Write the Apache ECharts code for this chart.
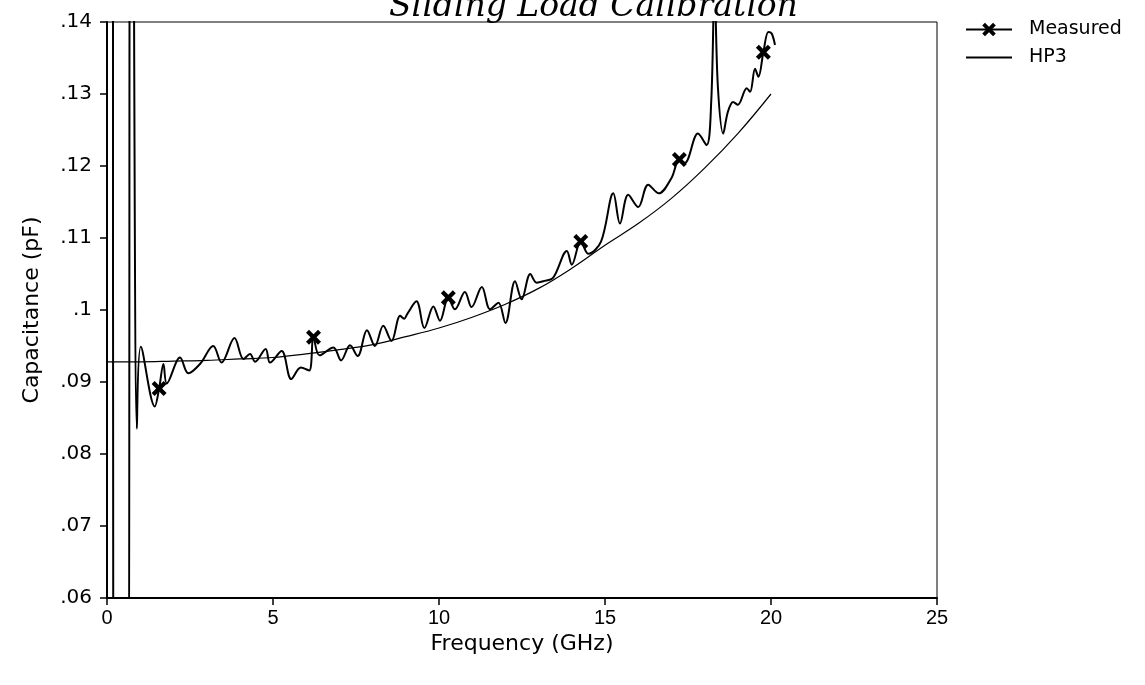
<!DOCTYPE html>
<html>
<head>
<meta charset="utf-8">
<script src="https://cdn.jsdelivr.net/npm/echarts@6/dist/echarts.min.js"></script>
<style>
html,body{margin:0;padding:0;background:#fff;}
#chart{width:1145px;height:685px;}
</style>
</head>
<body>
<div id="chart"></div>
<script>
// ---- data ----
const titleText = 'Sliding Load Calibration';
const xAxisName = 'Frequency (GHz)';
const yAxisName = 'Capacitance (pF)';
const seriesNames = ['Measured', 'HP3'];
const yTickLabels = {'0.06':'.06','0.07':'.07','0.08':'.08','0.09':'.09','0.10':'.1','0.11':'.11','0.12':'.12','0.13':'.13','0.14':'.14'};

// Measured sweep (GHz, pF)
const measuredX = [0.18,0.19,0.63,0.70,0.76,0.90,1.02,1.44,1.70,1.80,2.20,2.45,2.80,3.20,3.45,3.84,4.11,4.31,4.46,4.78,4.91,5.26,5.55,5.84,6.09,6.40,6.82,7.05,7.32,7.55,7.83,8.07,8.32,8.57,8.83,8.95,9.05,9.32,9.56,9.83,10.03,10.48,10.78,10.98,11.29,11.54,11.79,12.00,12.29,12.49,12.75,12.94,13.14,13.44,13.85,14.00,14.50,14.88,15.25,15.45,15.70,16.00,16.30,16.62,17.00,17.40,17.80,18.06,18.20,18.30,18.40,18.56,18.70,18.86,19.00,19.27,19.37,19.52,19.62,19.92,20.02,20.12];
const measuredY = [0.170,0.040,0.040,0.170,0.170,0.0835,0.0949,0.0866,0.0925,0.0898,0.0934,0.0912,0.0925,0.0950,0.0927,0.0961,0.0932,0.0939,0.0928,0.0946,0.0927,0.0943,0.0904,0.0920,0.0916,0.0937,0.0948,0.0930,0.0951,0.0936,0.0972,0.0950,0.0978,0.0957,0.0992,0.0988,0.0995,0.1012,0.0975,0.1005,0.0985,0.1001,0.1025,0.1004,0.1032,0.1001,0.1010,0.0982,0.1040,0.1015,0.1050,0.1038,0.1040,0.1045,0.1082,0.1063,0.1078,0.1095,0.1162,0.1120,0.1160,0.1143,0.1174,0.1162,0.1183,0.1204,0.1245,0.1229,0.1290,0.1450,0.1310,0.1245,0.1275,0.1289,0.1285,0.1308,0.1303,0.1335,0.1324,0.1386,0.1384,0.1368];
// Measured marker points (X symbols)
const markerX = [1.57,6.22,10.28,14.27,17.24,19.77];
const markerY = [0.0891,0.0962,0.1017,0.1095,0.1209,0.1358];

// HP3 model curve
const hp3X = [0,1,2,3,4,5,6,7,8,9,10,11,12,13,14,15,16,17,18,19,20];
const hp3Y = [0.0928,0.0928,0.0929,0.0930,0.0932,0.0934,0.0939,0.0945,0.0952,0.0963,0.0975,0.0990,0.1008,0.1030,0.1058,0.1090,0.1120,0.1155,0.1197,0.1245,0.1300];

// ---- build series data ----
const measuredPts = measuredX.map((x,i)=>({value:[x,measuredY[i]], symbol:'none'}));
markerX.forEach((x,i)=>measuredPts.push({value:[x,markerY[i]]}));
measuredPts.sort((a,b)=>a.value[0]-b.value[0]);
const hp3Pts = hp3X.map((x,i)=>[x,hp3Y[i]]);

const xMark = 'path://M0,2 L2,0 L5,3 L8,0 L10,2 L7,5 L10,8 L8,10 L5,7 L2,10 L0,8 L3,5 Z';

const chart = echarts.init(document.getElementById('chart'), null, {renderer:'canvas'});
chart.setOption({
  backgroundColor:'#ffffff',
  animation:false,
  title:{
    text:titleText, left:384, top:-14,
    textStyle:{fontFamily:'DejaVu Serif', fontStyle:'italic', fontWeight:'normal', fontSize:33, color:'#000'}
  },
  legend:{
    orient:'vertical', left:960, top:15, itemWidth:46, itemHeight:17, itemGap:9,
    data:seriesNames,
    textStyle:{fontFamily:'DejaVu Sans', fontSize:19, color:'#000', padding:[0,0,0,12]}
  },
  grid:{left:107, top:22, right:208, bottom:87, show:true, borderColor:'#000', borderWidth:1, backgroundColor:'transparent'},
  xAxis:{
    type:'value', min:0, max:25, interval:5,
    name:xAxisName, nameLocation:'middle', nameGap:30,
    nameTextStyle:{fontFamily:'DejaVu Sans', fontSize:22, color:'#000'},
    axisLine:{lineStyle:{color:'#000', width:2}},
    axisTick:{inside:false, length:7, lineStyle:{color:'#000', width:1.5}},
    axisLabel:{fontFamily:'Liberation Sans', fontSize:20, color:'#000', margin:10},
    splitLine:{show:false}
  },
  yAxis:{
    type:'value', min:0.06, max:0.14, interval:0.01,
    name:yAxisName, nameLocation:'middle', nameGap:64, nameRotate:90,
    nameTextStyle:{fontFamily:'DejaVu Sans', fontSize:22, color:'#000'},
    axisLine:{onZero:false, lineStyle:{color:'#000', width:2}},
    axisTick:{inside:false, length:7, lineStyle:{color:'#000', width:1.5}},
    axisLabel:{fontFamily:'DejaVu Sans', fontSize:20, color:'#000', margin:15,
      formatter:v=>yTickLabels[v.toFixed(2)] || ''},
    splitLine:{show:false}
  },
  series:[
    {
      name:seriesNames[0], type:'line', data:measuredPts, smooth:0.35,
      symbol:xMark, symbolSize:15, showSymbol:true,
      itemStyle:{color:'#000'},
      lineStyle:{color:'#000', width:2},
      clip:true, z:3
    },
    {
      name:seriesNames[1], type:'line', data:hp3Pts, smooth:0.4,
      symbol:'none',
      itemStyle:{color:'rgba(0,0,0,0)', borderWidth:0},
      lineStyle:{color:'#000', width:1.2},
      clip:true, z:2
    }
  ]
});
</script>
</body>
</html>
